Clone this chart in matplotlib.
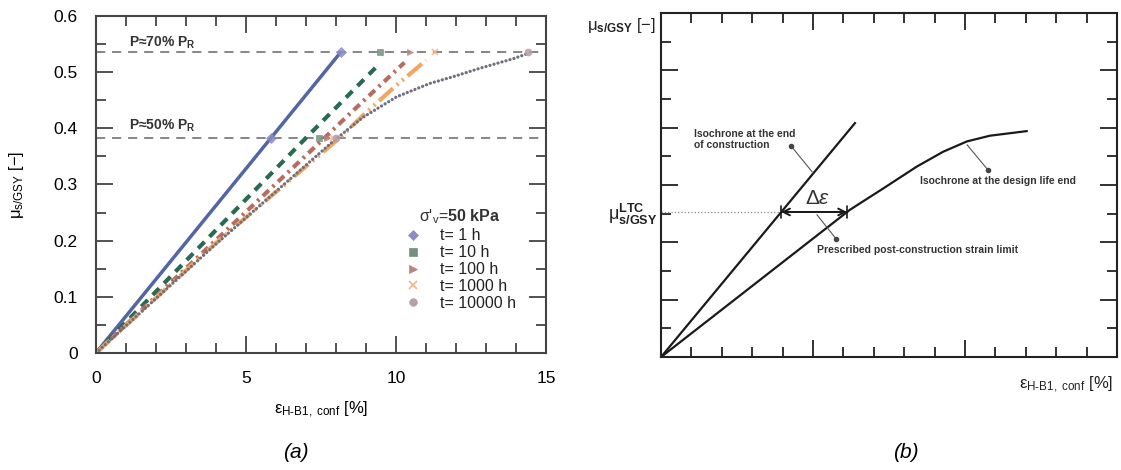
import matplotlib
matplotlib.use("Agg")
import matplotlib.pyplot as plt
from matplotlib.lines import Line2D
from matplotlib.ticker import MultipleLocator

plt.rcParams["font.family"] = ["Liberation Sans", "DejaVu Sans"]
plt.rcParams["mathtext.fontset"] = "custom"
plt.rcParams["mathtext.rm"] = "Liberation Sans"
plt.rcParams["mathtext.it"] = "Liberation Sans:italic"
plt.rcParams["mathtext.bf"] = "Liberation Sans:bold"

# ---- panel (a) data: isochrones at sigma'v = 50 kPa ----
eps_1h = [0, 8.15]
mu_1h = [0, 0.535]
eps_10h = [0, 7.0, 9.47]
mu_10h = [0, 0.383, 0.516]
eps_100h = [0, 7.6, 8.41, 10.28]
mu_100h = [0, 0.382, 0.4235, 0.517]
eps_1000h = [0, 4.0, 8.1, 9.0, 10.0, 11.0]
mu_1000h = [0, 0.196, 0.382, 0.428, 0.476, 0.521]
eps_10000h = [0, 4.0, 7.95, 8.91, 10.02, 11.13, 11.91, 12.8, 13.91, 14.38]
mu_10000h = [0, 0.194, 0.379, 0.420, 0.456, 0.480, 0.492, 0.507, 0.524, 0.533]

# markers at the two load levels
eps_p70 = [8.15, 9.45, 10.45, 11.3, 14.4]
eps_p50 = [5.85, 7.45, 7.7, 7.9, 8.0]
mu_p70 = 0.535
mu_p50 = 0.382

legend_labels = ["t= 1 h", "t= 10 h", "t= 100 h", "t= 1000 h", "t= 10000 h"]

x_ticks = [0, 5, 10, 15]
x_ticklabels = ["0", "5", "10", "15"]
y_ticks = [0, 0.1, 0.2, 0.3, 0.4, 0.5, 0.6]
y_ticklabels = ["0", "0.1", "0.2", "0.3", "0.4", "0.5", "0.6"]

# ---- panel (b) data: schematic isochrones ----
eps_construction = [0, 6.38]
mu_construction = [0, 0.408]
eps_design_life = [0, 6.22, 7.31, 8.41, 9.28, 10.06, 10.82, 12.03]
mu_design_life = [0, 0.257, 0.294, 0.332, 0.358, 0.376, 0.386, 0.394]
mu_ltc = 0.253
eps_ltc_end = 3.95
eps_ltc_life = 6.12

line_colors = ["#5366a3", "#2b6a52", "#b56d5f", "#f2a663", "#6f6f7f"]
marker_colors = ["#8c8cc4", "#73907f", "#b88480", "#f2b990", "#b89ea6"]
markers = ["D", "s", ">", "x", "o"]

xlabel = "ε$_\\mathregular{H\u2011B1,\\ conf}$ [%]"

fig = plt.figure(figsize=(11.21, 4.70), dpi=100)
ax = fig.add_axes([0.0856, 0.2489, 0.4015, 0.7171])
axb = fig.add_axes([0.5897, 0.2404, 0.4067, 0.7319])


def style_axes(a, spine_color):
    a.set_xlim(0, 15)
    a.set_ylim(0, 0.6)
    a.xaxis.set_minor_locator(MultipleLocator(1))
    a.yaxis.set_minor_locator(MultipleLocator(0.05))
    for s in a.spines.values():
        s.set_linewidth(1.5)
        s.set_color(spine_color)
    a.tick_params(which="both", direction="in", top=True, right=True,
                  width=1.3, color=spine_color)
    a.tick_params(which="major", length=12.5, pad=13, labelsize=12.5)
    a.tick_params(which="minor", length=7)


style_axes(ax, "#444444")
style_axes(axb, "#222222")

ax.set_xticks(x_ticks)
ax.set_xticklabels(x_ticklabels)
ax.set_yticks(y_ticks)
ax.set_yticklabels(y_ticklabels)
axb.set_xticks(x_ticks)
axb.set_yticks(y_ticks)
axb.tick_params(labelbottom=False, labelleft=False)

# reference load levels
for lvl in (mu_p70, mu_p50):
    ax.axhline(lvl, color="#666666", lw=1.1, dashes=(6, 4.5), zorder=1)
ax.text(1.1, 0.553, "P≈70% P$_\\mathbf{R}$", fontsize=10, fontweight="bold",
        color="#333333", va="center")
ax.text(1.1, 0.404, "P≈50% P$_\\mathbf{R}$", fontsize=10, fontweight="bold",
        color="#333333", va="center")

ax.plot(eps_1h, mu_1h, color=line_colors[0], lw=2.5, solid_capstyle="butt")
ax.plot(eps_10h, mu_10h, color=line_colors[1], lw=3, dashes=(2.2, 1.7))
ax.plot(eps_100h, mu_100h, color=line_colors[2], lw=3, dashes=(2, 1.2, 0.6, 1.2))
ax.plot(eps_1000h, mu_1000h, color=line_colors[3], lw=3,
        dashes=(4.5, 1.2, 0.5, 1.2, 0.5, 1.2))
ax.plot(eps_10000h, mu_10000h, color=line_colors[4], lw=2.3,
        dashes=(0.05, 1.25), dash_capstyle="round")

for i in range(5):
    ax.plot([eps_p70[i], eps_p50[i]], [mu_p70, mu_p50], ls="none",
            marker=markers[i], ms=5, color=marker_colors[i],
            mew=1.3 if markers[i] == "x" else 0.5, alpha=0.85, zorder=4)

handles = [Line2D([], [], ls="none", marker=markers[i], ms=5.5,
                  color=marker_colors[i], mew=1.3 if markers[i] == "x" else 0.5)
           for i in range(5)]
leg = ax.legend(handles, legend_labels, loc="upper left",
                bbox_to_anchor=(0.668, 0.455), frameon=False, fontsize=11.5,
                title="σ'$_\\mathregular{v}$=$\\mathbf{50\\ kPa}$",
                title_fontsize=11.5, handlelength=1.0, handletextpad=1.2,
                labelspacing=0.12, borderpad=0)
leg.get_title().set_color("#333333")
for t in leg.get_texts():
    t.set_color("#222222")

ax.set_xlabel(xlabel, fontsize=12, labelpad=10)
ax.set_ylabel("μ$_\\mathregular{s/GSY}$ [−]", fontsize=12, labelpad=20)

# ---- panel (b) ----
axb.plot(eps_construction, mu_construction, color="#1a1a1a", lw=1.6)
axb.plot(eps_design_life, mu_design_life, color="#1a1a1a", lw=1.6,
         solid_joinstyle="round")
axb.plot([0, eps_ltc_end], [mu_ltc, mu_ltc], color="#888888", lw=0.9, ls=":")
axb.annotate("", xy=(eps_ltc_end, mu_ltc), xytext=(eps_ltc_life, mu_ltc),
             arrowprops=dict(arrowstyle="<->", color="#1a1a1a", lw=1.4,
                             shrinkA=0, shrinkB=0, mutation_scale=12))
axb.annotate("", xy=(eps_ltc_end, mu_ltc), xytext=(eps_ltc_life, mu_ltc),
             arrowprops=dict(arrowstyle="|-|", color="#1a1a1a", lw=1.2,
                             shrinkA=0, shrinkB=0, mutation_scale=4))
axb.text(5.16, 0.276, r"$\Delta\varepsilon$", fontsize=15, ha="center",
         va="center", color="#333333")

note_kw = dict(fontsize=7.5, fontweight="bold", color="#333333")
axb.text(1.09, 0.398, "Isochrone at the end\nof construction", va="top",
         ha="left", linespacing=1.2, **note_kw)
axb.text(8.52, 0.307, "Isochrone at the design life end", va="center",
         ha="left", **note_kw)
axb.text(5.13, 0.187, "Prescribed post-construction strain limit",
         va="center", ha="left", **note_kw)

leaders = [((4.28, 0.368), (4.97, 0.323)),
           ((10.76, 0.326), (10.07, 0.370)),
           ((5.76, 0.206), (5.13, 0.248))]
for (x0, y0), (x1, y1) in leaders:
    axb.plot([x0, x1], [y0, y1], color="#555555", lw=0.8)
    axb.plot([x0], [y0], marker="o", ms=3, color="#444444")

axb.text(-0.012, 0.965, "μ$_\\mathbf{s/GSY}$ [−]", transform=axb.transAxes,
         ha="right", va="center", fontsize=12, color="#222222")
axb.text(-0.008, 0.413, "μ$_\\mathbf{s/GSY}^\\mathbf{LTC}$",
         transform=axb.transAxes, ha="right", va="center", fontsize=13,
         color="#222222")
axb.text(0.991, -0.08, xlabel, transform=axb.transAxes, ha="right",
         va="center", fontsize=12, color="#222222")

fig.text(296 / 1121, 1 - 452 / 470, "(a)", fontsize=15, style="italic",
         ha="center", va="center")
fig.text(906 / 1121, 1 - 453 / 470, "(b)", fontsize=15, style="italic",
         ha="center", va="center")

fig.savefig("out.png", dpi=100)
